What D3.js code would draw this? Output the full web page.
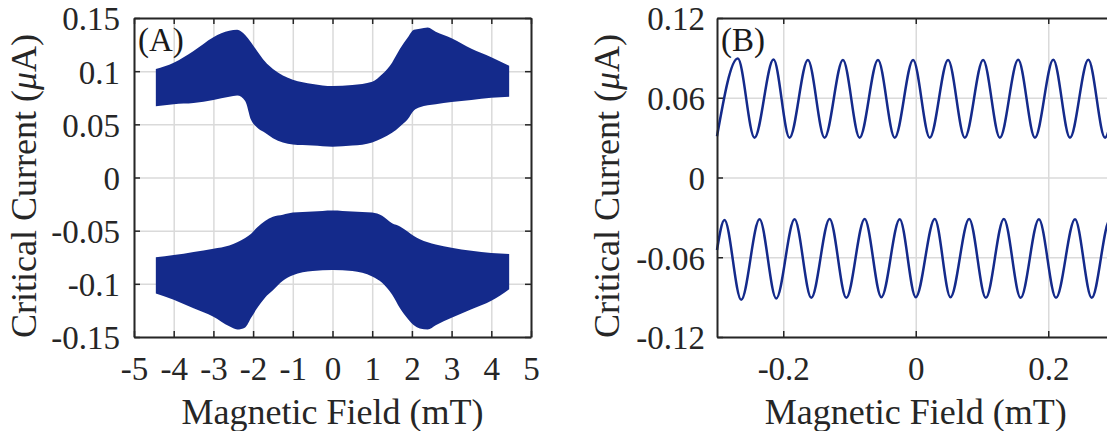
<!DOCTYPE html>
<html>
<head>
<meta charset="utf-8">
<script src="https://cdn.jsdelivr.net/npm/d3@7"></script>
<style>
	body { margin: 0; background: #fff; }
</style>
</head>
<body>
<svg id="chart" width="1107" height="431"></svg>
<script>
/* global d3 */

'use strict';

//////////////////////////////////////////////////
// Data.
//////////////////////////////////////////////////

// Panel (A): envelope of the fast oscillation, field in mT, current in uA.
var fieldA = [-4.45, -4.0, -3.5, -3.0, -2.6, -2.4, -2.2, -2.05, -1.9, -1.7, -1.5, -1.25, -1.0, -0.5, 0,
	0.5, 1.0, 1.25, 1.5, 1.7, 1.9, 2.05, 2.2, 2.4, 2.6, 3.0, 3.5, 4.0, 4.45];
var posTop = [0.102, 0.108, 0.119, 0.132, 0.138, 0.139, 0.134, 0.127, 0.119, 0.109, 0.102, 0.096, 0.092, 0.088, 0.086,
	0.087, 0.090, 0.097, 0.108, 0.121, 0.132, 0.139, 0.140, 0.141, 0.137, 0.131, 0.121, 0.113, 0.105];
var posBottom = [0.067, 0.069, 0.070, 0.073, 0.076, 0.077, 0.072, 0.054, 0.047, 0.042, 0.037, 0.033, 0.031, 0.030, 0.029,
	0.030, 0.033, 0.037, 0.042, 0.048, 0.055, 0.063, 0.066, 0.068, 0.069, 0.071, 0.073, 0.075, 0.076];
var negTop = [-0.075, -0.073, -0.070, -0.067, -0.064, -0.061, -0.057, -0.053, -0.047, -0.041, -0.037, -0.035, -0.033, -0.032, -0.031,
	-0.032, -0.033, -0.036, -0.043, -0.046, -0.051, -0.055, -0.058, -0.061, -0.063, -0.066, -0.069, -0.071, -0.072];
var negBottom = [-0.109, -0.115, -0.123, -0.131, -0.140, -0.143, -0.141, -0.132, -0.123, -0.113, -0.106, -0.097, -0.092, -0.088, -0.087,
	-0.088, -0.093, -0.099, -0.110, -0.123, -0.133, -0.139, -0.142, -0.143, -0.139, -0.132, -0.124, -0.116, -0.105];

// Panel (B): extrema of the two branches (alternating trough / peak).
var upperField = [-0.3, -0.2686, -0.2434, -0.2147, -0.1905, -0.1628, -0.1376, -0.1099, -0.0847, -0.057, -0.0317, -0.004,
	0.0212, 0.0488, 0.0741, 0.1017, 0.127, 0.1546, 0.1799, 0.2076, 0.2328, 0.2605, 0.2857, 0.3];
var upperCurrent = [0.031, 0.0895, 0.030, 0.0888, 0.030, 0.0884, 0.030, 0.0884, 0.030, 0.0884, 0.030, 0.0884,
	0.030, 0.0884, 0.030, 0.0884, 0.030, 0.0886, 0.030, 0.0886, 0.030, 0.0886, 0.030, 0.060];
var lowerField = [-0.3, -0.2887, -0.2635, -0.2358, -0.2106, -0.1829, -0.1577, -0.13, -0.1048, -0.0771, -0.0519, -0.0242,
	0.0, 0.0287, 0.0524, 0.0806, 0.1058, 0.133, 0.1583, 0.1859, 0.2117, 0.2404, 0.2656, 0.293, 0.3];
var lowerCurrent = [-0.0545, -0.032, -0.092, -0.0315, -0.091, -0.0315, -0.0905, -0.0312, -0.0905, -0.0312, -0.090, -0.0315,
	-0.090, -0.0312, -0.090, -0.0312, -0.0905, -0.0312, -0.0905, -0.0315, -0.0905, -0.0315, -0.0905, -0.032, -0.034];

// Ticks.
var ticksAX = [-5, -4, -3, -2, -1, 0, 1, 2, 3, 4, 5];
var labelsAX = ["-5", "-4", "-3", "-2", "-1", "0", "1", "2", "3", "4", "5"];
var ticksAY = [-0.15, -0.1, -0.05, 0, 0.05, 0.1, 0.15];
var labelsAY = ["-0.15", "-0.1", "-0.05", "0", "0.05", "0.1", "0.15"];
var ticksBX = [-0.2, 0, 0.2];
var labelsBX = ["-0.2", "0", "0.2"];
var ticksBY = [-0.12, -0.06, 0, 0.06, 0.12];
var labelsBY = ["-0.12", "-0.06", "0", "0.06", "0.12"];

//////////////////////////////////////////////////
// Drawing.
//////////////////////////////////////////////////

var fontFamily = "'Liberation Serif', 'DejaVu Serif', serif";
var axisColor = "#262626";
var gridColor = "#dadada";
var dataColor = "#142a8b";
var tickFont = 33;
var labelFont = 36;

var svg = d3.select("#chart")
		.attr("font-family", fontFamily);

/**
 * Draws grid, box, ticks and labels of one Matlab-like panel.
 * Returns the scales so the data can be drawn between grid and box.
 */
function makePanel(p) {
	var x = d3.scaleLinear().domain(p.xDomain).range([p.left, p.right]);
	var y = d3.scaleLinear().domain(p.yDomain).range([p.bottom, p.top]);
	var w = p.right - p.left;
	var h = p.bottom - p.top;

	var g = svg.append("g");
	var gGrid = g.append("g");
	var gData = g.append("g");
	var gFrame = g.append("g");

	// Grid lines.
	gGrid.append("g")
			.attr("transform", "translate(0," + p.bottom + ")")
			.call(d3.axisBottom(x).tickValues(p.xTicks).tickSize(-h).tickFormat(""));
	gGrid.append("g")
			.attr("transform", "translate(" + p.left + ",0)")
			.call(d3.axisLeft(y).tickValues(p.yTicks).tickSize(-w).tickFormat(""));
	gGrid.selectAll(".domain").remove();
	gGrid.selectAll("line")
			.attr("stroke", gridColor)
			.attr("stroke-width", 1.5);

	// Box with inward ticks on all four sides.
	var bottom = gFrame.append("g")
			.attr("transform", "translate(0," + p.bottom + ")")
			.call(d3.axisBottom(x).tickValues(p.xTicks).tickSizeInner(-6).tickSizeOuter(0)
					.tickFormat(function(d, i) { return p.xLabels[i]; }));
	bottom.selectAll("text").attr("y", 43).attr("dy", null);

	var left = gFrame.append("g")
			.attr("transform", "translate(" + p.left + ",0)")
			.call(d3.axisLeft(y).tickValues(p.yTicks).tickSizeInner(-6).tickSizeOuter(0)
					.tickFormat(function(d, i) { return p.yLabels[i]; }));
	left.selectAll("text").attr("x", -p.labelGap).attr("dy", "0.36em");

	gFrame.append("g")
			.attr("transform", "translate(0," + p.top + ")")
			.call(d3.axisTop(x).tickValues(p.xTicks).tickSizeInner(-6).tickSizeOuter(0).tickFormat(""));
	gFrame.append("g")
			.attr("transform", "translate(" + p.right + ",0)")
			.call(d3.axisRight(y).tickValues(p.yTicks).tickSizeInner(-6).tickSizeOuter(0).tickFormat(""));

	gFrame.selectAll("g")
			.attr("font-family", fontFamily)
			.attr("font-size", tickFont)
			.attr("fill", axisColor);
	gFrame.selectAll(".domain")
			.attr("stroke", axisColor)
			.attr("stroke-width", 2);
	gFrame.selectAll(".tick line")
			.attr("stroke", axisColor)
			.attr("stroke-width", 1.5);
	gFrame.selectAll(".tick text").attr("fill", axisColor);

	// Axis titles.
	g.append("text")
			.attr("x", (p.left + p.right) / 2)
			.attr("y", p.bottom + 87)
			.attr("text-anchor", "middle")
			.attr("font-size", labelFont)
			.attr("fill", axisColor)
			.text("Magnetic Field (mT)");

	var yTitle = g.append("text")
			.attr("transform", "translate(" + (p.left - 98) + ",186) rotate(-90)")
			.attr("text-anchor", "middle")
			.attr("font-size", labelFont)
			.attr("fill", axisColor);
	yTitle.append("tspan").text("Critical Current (");
	yTitle.append("tspan").attr("font-style", "italic").text("\u03bc");
	yTitle.append("tspan").text("A)");

	// Panel letter.
	g.append("text")
			.attr("x", p.left + 4)
			.attr("y", p.top + 33)
			.attr("font-size", tickFont)
			.attr("fill", "#1a1a1a")
			.text(p.name);

	return {x: x, y: y, gData: gData};
}

// Panel (A).
var pa = makePanel({
	name: "(A)",
	left: 134, right: 531, top: 18, bottom: 337,
	xDomain: [-5, 5], yDomain: [-0.15, 0.15],
	xTicks: ticksAX, xLabels: labelsAX,
	yTicks: ticksAY, yLabels: labelsAY,
	labelGap: 14
});

var bands = [[posTop, posBottom], [negTop, negBottom]];
var band = d3.area()
		.curve(d3.curveMonotoneX)
		.x(function(d) { return pa.x(d.f); })
		.y0(function(d) { return pa.y(d.lo); })
		.y1(function(d) { return pa.y(d.hi); });

pa.gData.selectAll("path.band").data(bands)
		.enter().append("path")
		.attr("class", "band")
		.attr("fill", dataColor)
		.attr("d", function(b) {
			return band(fieldA.map(function(f, i) {
				return {f: f, hi: b[0][i], lo: b[1][i]};
			}));
		});

// Panel (B).
var pb = makePanel({
	name: "(B)",
	left: 717, right: 1114.5, top: 18, bottom: 337,
	xDomain: [-0.3, 0.3], yDomain: [-0.12, 0.12],
	xTicks: ticksBX, xLabels: labelsBX,
	yTicks: ticksBY, yLabels: labelsBY,
	labelGap: 12
});

var branches = [[upperField, upperCurrent], [lowerField, lowerCurrent]];
var wave = d3.line()
		.curve(d3.curveMonotoneX)
		.x(function(d) { return pb.x(d[0]); })
		.y(function(d) { return pb.y(d[1]); });

pb.gData.selectAll("path.branch").data(branches)
		.enter().append("path")
		.attr("class", "branch")
		.attr("fill", "none")
		.attr("stroke", dataColor)
		.attr("stroke-width", 2.5)
		.attr("stroke-linejoin", "round")
		.attr("d", function(b) {
			return wave(b[0].map(function(f, i) { return [f, b[1][i]]; }));
		});
</script>
</body>
</html>
